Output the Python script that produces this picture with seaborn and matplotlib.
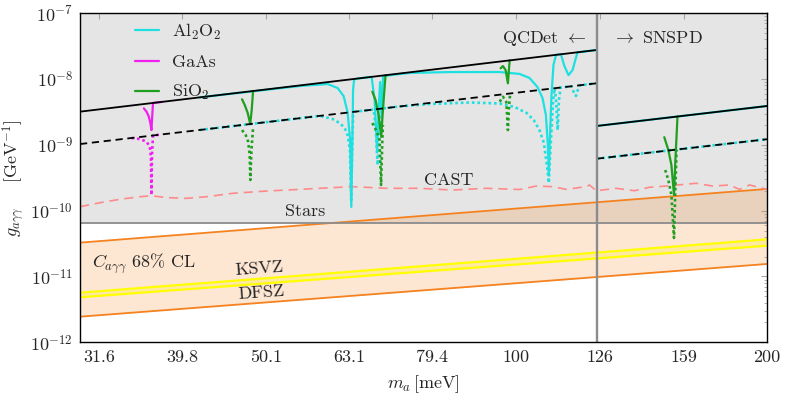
import matplotlib
matplotlib.use("Agg")
import matplotlib.pyplot as plt
import seaborn as sns
from matplotlib.lines import Line2D
from matplotlib.ticker import LogLocator, NullLocator, NullFormatter, FixedLocator, FixedFormatter

# ---------------- data ----------------
x_ticks = [31.6, 39.8, 50.1, 63.1, 79.4, 100, 126, 159, 200]
x_tick_labels = ["31.6", "39.8", "50.1", "63.1", "79.4", "100", "126", "159", "200"]
y_ticks = [1e-12, 1e-11, 1e-10, 1e-9, 1e-8, 1e-7]
y_tick_labels = [r"$10^{-12}$", r"$10^{-11}$", r"$10^{-10}$", r"$10^{-9}$", r"$10^{-8}$", r"$10^{-7}$"]
m_range = [30, 200]
g_range = [1e-12, 1e-7]
m_split = 125

qcdet_m = [30, 125]
qcdet_solid = [3.20e-9, 2.77e-8]
qcdet_dashed = [1.03e-9, 8.64e-9]
snspd_m = [125, 200]
snspd_solid = [1.94e-9, 3.90e-9]
snspd_dashed = [6.17e-10, 1.22e-9]

band_m = [30, 200]
band_upper = [3.27e-11, 2.14e-10]
band_lower = [2.45e-12, 1.55e-11]
ksvz_g = [5.67e-12, 3.67e-11]
dfsz_g = [4.83e-12, 2.94e-11]
stars_g = 6.6e-11

cast_m = [30.0, 31.68, 33.48, 35.38, 36.54, 38.09, 40.25, 42.53, 45.75, 50.2, 55.04, 58.15,
          63.72, 69.92, 76.6, 83.9, 92.1, 101.0, 105.8, 110.6, 114.9, 121.4, 122.5, 124.8,
          131.9, 138.7, 144.6, 151.4, 164.4, 172.1, 180.3, 185.4, 190.6, 200.0]
cast_g = [1.15e-10, 1.32e-10, 1.49e-10, 1.63e-10, 1.69e-10, 1.58e-10, 1.54e-10, 1.63e-10,
          1.84e-10, 1.99e-10, 2.11e-10, 2.19e-10, 2.32e-10, 2.19e-10, 2.19e-10, 2.06e-10,
          2.19e-10, 2.10e-10, 2.37e-10, 2.32e-10, 2.11e-10, 2.32e-10, 2.46e-10, 2.01e-10,
          2.19e-10, 2.01e-10, 2.27e-10, 2.37e-10, 2.61e-10, 2.37e-10, 2.46e-10, 2.11e-10,
          2.46e-10, 2.11e-10]

# Al2O2 (QCDet)
al_solid_m = [41.76, 55.04, 59.44, 61.11, 62.12, 62.81, 63.25, 63.46, 63.64, 63.77, 63.94, 64.21,
              67.12, 67.68, 68.14, 68.43, 68.71, 68.98, 69.27, 70.15, 71.5, 74.6, 83.3, 95.6,
              101.0, 103.8, 106.1, 107.6, 108.6, 109.2, 109.5, 109.8, 110.3, 110.9, 111.7, 113.2,
              114.3, 115.6, 116.9, 117.8, 118.5, 125.0]
al_solid_g = [5.28e-9, 7.85e-9, 8.42e-9, 7.32e-9, 5.53e-9, 3.16e-9, 1.19e-9, 1.14e-10, 1.19e-9,
              6.83e-9, 9.69e-9, 1.01e-8, 1.08e-8, 4.81e-9, 7.80e-10, 3.39e-9, 9.04e-9, 2.85e-9,
              1.08e-8, 1.13e-8, 1.17e-8, 1.24e-8, 1.28e-8, 1.28e-8, 1.20e-8, 1.04e-8, 7.59e-9,
              5.16e-9, 2.85e-9, 9.97e-10, 3.49e-10, 1.19e-9, 5.73e-9, 1.64e-8, 2.34e-8, 2.38e-8,
              1.58e-8, 1.15e-8, 1.37e-8, 1.95e-8, 2.55e-8, 2.77e-8]
al_dot_m = [41.76, 58.15, 60.27, 61.45, 62.31, 62.81, 63.22, 63.44, 63.61, 63.77, 64.03, 67.49,
            67.86, 68.24, 68.61, 69.18, 72.5, 78.8, 88.0, 95.6, 99.6, 103.0, 105.0, 106.7, 108.0,
            108.9, 109.5, 109.8, 110.3, 110.8, 111.25, 111.7, 112.2, 112.6, 113.1, 116.6, 117.4,
            118.0, 118.5, 119.3, 125.0]
al_dot_g = [1.686e-9, 2.76e-9, 2.47e-9, 2.15e-9, 1.81e-9, 1.41e-9, 8.37e-10, 1.45e-10, 8.37e-10,
            2.85e-9, 3.19e-9, 3.45e-9, 2.01e-9, 4.95e-10, 2.01e-9, 3.58e-9, 3.84e-9, 4.18e-9,
            4.41e-9, 4.26e-9, 3.77e-9, 3.05e-9, 2.39e-9, 1.68e-9, 1.07e-9, 4.95e-10, 2.64e-10,
            5.89e-10, 1.68e-9, 4.81e-9, 7.26e-9, 4.81e-9, 1.68e-9, 4.81e-9, 7.44e-9, 7.79e-9,
            6.15e-9, 5.53e-9, 6.59e-9, 8.06e-9, 8.64e-9]
# Al2O2 (SNSPD)
al_snspd_m = [125, 200]
al_snspd_solid_g = [1.94e-9, 3.90e-9]
al_snspd_dot_g = [6.17e-10, 1.22e-9]

# GaAs
gaas_solid_m = [35.78, 36.05, 36.28, 36.44, 36.54, 36.63, 36.70, 37.60]
gaas_solid_g = [3.60e-9, 3.20e-9, 2.68e-9, 2.13e-9, 1.68e-9, 2.85e-9, 4.34e-9, 4.50e-9]
gaas_dot_m = [34.58, 35.38, 36.05, 36.38, 36.49, 36.54, 36.60, 36.70, 37.57]
gaas_dot_g = [1.273e-9, 1.23e-9, 1.12e-9, 9.39e-10, 6.55e-10, 1.73e-10, 7.02e-10, 1.39e-9, 1.44e-9]

# SiO2 resonances
sio2_a_solid_m = [46.93, 47.28, 47.67, 48.00, 48.20, 48.38]
sio2_a_solid_g = [4.93e-9, 4.04e-9, 3.05e-9, 2.08e-9, 3.39e-9, 6.59e-9]
sio2_a_dot_m = [46.93, 47.41, 47.74, 47.93, 48.02, 48.16, 48.38]
sio2_a_dot_g = [1.68e-9, 1.41e-9, 1.11e-9, 7.02e-10, 2.93e-10, 8.37e-10, 1.81e-9]
sio2_b_solid_m = [67.25, 67.86, 68.43, 68.93, 69.18, 69.46, 69.75]
sio2_b_solid_g = [6.43e-9, 4.81e-9, 2.85e-9, 1.32e-9, 2.85e-9, 5.73e-9, 1.146e-8]
sio2_b_dot_m = [67.25, 68.05, 68.61, 68.89, 69.08, 69.24]
sio2_b_dot_g = [2.15e-9, 1.63e-9, 1.19e-9, 2.46e-10, 8.37e-10, 2.01e-9]
sio2_c_solid_m = [95.85, 96.45, 97.18, 97.79, 98.06, 98.26]
sio2_c_solid_g = [1.46e-8, 1.58e-8, 1.37e-8, 8.63e-9, 1.37e-8, 1.924e-8]
sio2_c_dot_m = [95.6, 96.45, 97.36, 97.79, 98.12, 98.4]
sio2_c_dot_g = [4.53e-9, 5.40e-9, 4.49e-9, 1.68e-9, 4.04e-9, 6.05e-9]
sio2_d_solid_m = [150.6, 152.3, 153.6, 154.7, 155.3, 156.2]
sio2_d_solid_g = [1.31e-9, 8.37e-10, 4.95e-10, 1.73e-10, 5.89e-10, 2.70e-9]
sio2_d_dot_m = [151.0, 152.3, 153.6, 154.7, 155.2, 155.8]
sio2_d_dot_g = [4.15e-10, 2.93e-10, 1.73e-10, 3.85e-11, 1.73e-10, 8.5e-10]

legend_labels = [r"Al$_2$O$_2$", "GaAs", r"SiO$_2$"]

# ---------------- style ----------------
C_CYAN = "#1fe0e0"
C_MAG = "#f020f0"
C_GREEN = "#1f9e1f"
C_ORANGE = "#f5821f"
C_GRAYFILL = "#e5e5e5"
C_GRAYLINE = "#8c8c8c"
C_CAST = "#ff8a8a"
DOT = (0, (1, 1.1))

sns.set_theme(style="white")
plt.rcParams["font.family"] = ["cmr10", "DejaVu Serif"]
plt.rcParams["mathtext.fontset"] = "cm"
plt.rcParams["axes.formatter.use_mathtext"] = True
plt.rcParams["axes.unicode_minus"] = False
FS = 13

fig = plt.figure(figsize=(7.9, 4.0), dpi=100)
ax = fig.add_axes([0.10127, 0.14425, 0.86962, 0.8225])
ax.set_xscale("log")
ax.set_yscale("log")
ax.set_xlim(*m_range)
ax.set_ylim(*g_range)


def line(m, g, color, ls="-", lw=1.6, z=3):
    sns.lineplot(x=m, y=g, color=color, linestyle=ls, linewidth=lw, sort=False,
                 estimator=None, ax=ax, zorder=z, legend=False)


# excluded region (gray) down to stars bound
ax.fill_between(m_range, [stars_g, stars_g], [g_range[1], g_range[1]], color=C_GRAYFILL,
                lw=0, zorder=0.5)
# QCD axion band
ax.fill_between(band_m, band_lower, band_upper, color=C_ORANGE, alpha=0.2, lw=0, zorder=1)
line(band_m, band_upper, C_ORANGE, lw=1.3, z=1.2)
line(band_m, band_lower, C_ORANGE, lw=1.3, z=1.2)
ax.fill_between(band_m, dfsz_g, ksvz_g, color="#ffee66", alpha=0.45, lw=0, zorder=1.3)
line(band_m, ksvz_g, "#ffff00", lw=1.6, z=1.4)
line(band_m, dfsz_g, "#ffff00", lw=1.6, z=1.4)

# stars
ax.axhline(stars_g, color=C_GRAYLINE, lw=1.3, zorder=1.5)
# CAST
line(cast_m, cast_g, C_CAST, ls=(0, (5.5, 3.5)), lw=1.2, z=1.6)

# material curves
line(al_solid_m, al_solid_g, C_CYAN, z=3)
line(al_dot_m, al_dot_g, C_CYAN, ls=DOT, lw=1.9, z=3)
line(al_snspd_m, al_snspd_solid_g, C_CYAN, z=3)
line(al_snspd_m, al_snspd_dot_g, C_CYAN, ls=DOT, lw=1.9, z=3)
line(gaas_solid_m, gaas_solid_g, C_MAG, z=3.1)
line(gaas_dot_m, gaas_dot_g, C_MAG, ls=DOT, lw=1.9, z=3.1)
for sm, sg, dm, dg in [(sio2_a_solid_m, sio2_a_solid_g, sio2_a_dot_m, sio2_a_dot_g),
                       (sio2_b_solid_m, sio2_b_solid_g, sio2_b_dot_m, sio2_b_dot_g),
                       (sio2_c_solid_m, sio2_c_solid_g, sio2_c_dot_m, sio2_c_dot_g),
                       (sio2_d_solid_m, sio2_d_solid_g, sio2_d_dot_m, sio2_d_dot_g)]:
    line(sm, sg, C_GREEN, z=3.2)
    line(dm, dg, C_GREEN, ls=DOT, lw=1.9, z=3.2)

# sensitivity reference lines
line(qcdet_m, qcdet_solid, "black", lw=1.3, z=4)
line(qcdet_m, qcdet_dashed, "black", ls=(0, (4, 2.6)), lw=1.3, z=4)
line(snspd_m, snspd_solid, "black", lw=1.3, z=4)
line(snspd_m, snspd_dashed, "black", ls=(0, (4, 2.6)), lw=1.3, z=4)

ax.axvline(m_split, color=C_GRAYLINE, lw=1.7, zorder=5)

# texts
ax.text(121.5, 4.2e-8, r"QCDet $\leftarrow$", fontsize=FS, ha="right", va="center", zorder=6)
ax.text(130.2, 4.2e-8, r"$\rightarrow$ SNSPD", fontsize=FS, ha="left", va="center", zorder=6)
ax.text(83.0, 2.93e-10, "CAST", fontsize=FS, ha="center", va="center", zorder=6)
ax.text(55.8, 9.9e-11, "Stars", fontsize=FS, ha="center", va="center", zorder=6)
ax.text(31.0, 1.55e-11, r"$C_{a\gamma\gamma}$ 68% CL", fontsize=FS, ha="left", va="center", zorder=6)
ax.text(49.2, 1.30e-11, "KSVZ", fontsize=FS, ha="center", va="center", rotation=4,
        rotation_mode="anchor", zorder=6)
ax.text(49.5, 5.71e-12, "DFSZ", fontsize=FS, ha="center", va="center", rotation=4,
        rotation_mode="anchor", zorder=6)

# legend
handles = [Line2D([], [], color=c, lw=1.6) for c in (C_CYAN, C_MAG, C_GREEN)]
ax.legend(handles, legend_labels, loc="upper left", bbox_to_anchor=(0.08, 0.975),
          frameon=False, fontsize=FS, handlelength=1.35, handletextpad=0.7,
          labelspacing=0.72, borderaxespad=0, borderpad=0)

# axes, ticks
ax.xaxis.set_major_locator(FixedLocator(x_ticks))
ax.xaxis.set_major_formatter(FixedFormatter(x_tick_labels))
ax.xaxis.set_minor_locator(NullLocator())
ax.yaxis.set_major_locator(FixedLocator(y_ticks))
ax.yaxis.set_major_formatter(FixedFormatter(y_tick_labels))
ax.yaxis.set_minor_locator(LogLocator(base=10, subs=range(2, 10), numticks=20))
ax.yaxis.set_minor_formatter(NullFormatter())
ax.tick_params(which="both", direction="in", top=True, right=True, color="#a6a6a6",
               labelsize=FS)
ax.tick_params(which="major", length=4.5, width=0.8, pad=5)
ax.tick_params(which="minor", length=2.5, width=0.6)
for s in ax.spines.values():
    s.set_color("black")
    s.set_linewidth(1.0)
    s.set_zorder(7)

ax.set_xlabel(r"$m_a\,[\mathrm{meV}]$", fontsize=FS, labelpad=6)
ax.set_ylabel(r"$g_{a\gamma\gamma}\quad\;\;[\mathrm{GeV}^{-1}]$", fontsize=FS)
ax.yaxis.set_label_coords(-0.077, 0.5)

fig.savefig("out.png", dpi=100)
